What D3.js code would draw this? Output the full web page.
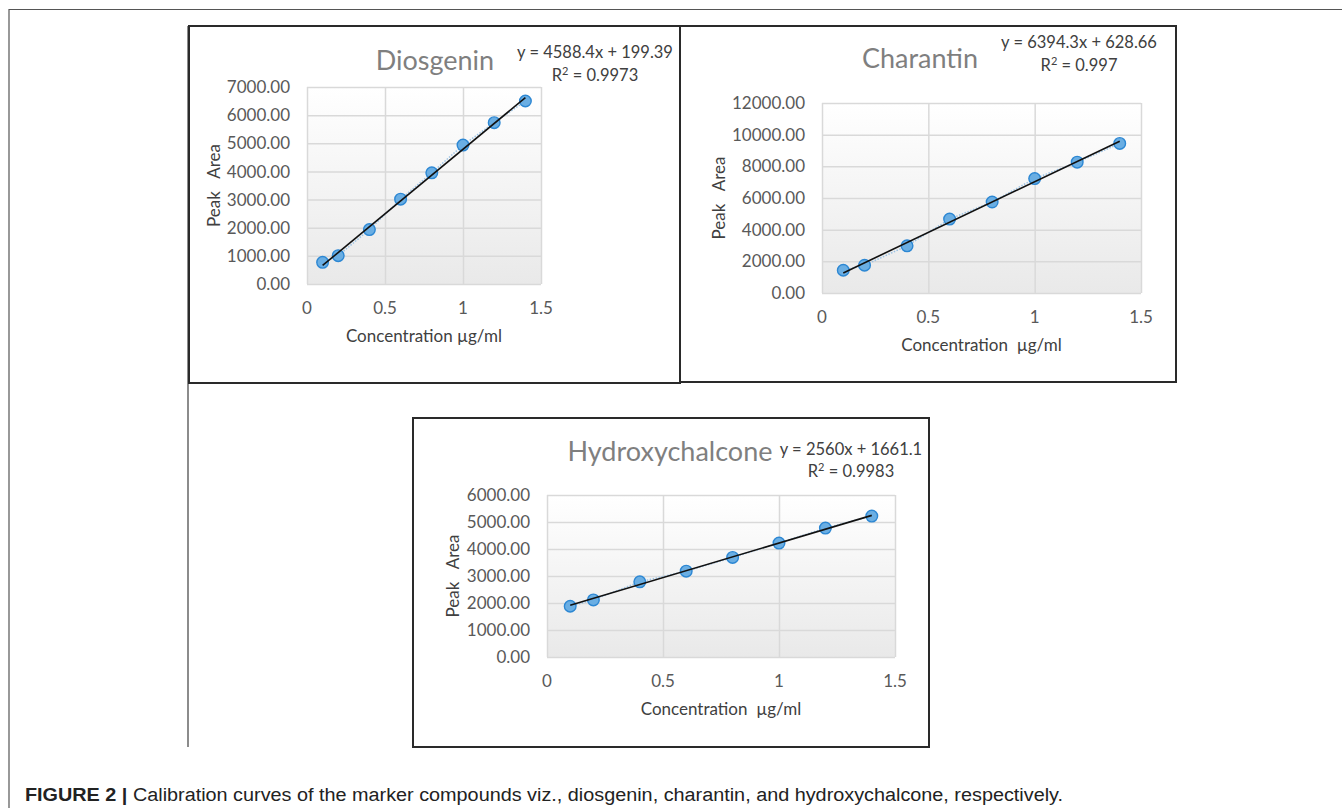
<!DOCTYPE html>
<html>
<head>
<meta charset="utf-8">
<script src="https://cdn.jsdelivr.net/npm/d3@7"></script>
<style>
  body { margin: 0; background: #fff; }
  svg { display: block; }
</style>
</head>
<body>
<div id="chart"></div>
<script>
// concentrations (µg/ml) shared by all three curves
var conc = [0.1, 0.2, 0.4, 0.6, 0.8, 1.0, 1.2, 1.4];

// peak areas
var diosgeninArea = [771, 1008, 1934, 3013, 3951, 4936, 5731, 6502];
var charantinArea = [1437, 1754, 2979, 4669, 5746, 7225, 8261, 9444];
var hydroxyArea = [1880, 2115, 2784, 3179, 3687, 4219, 4775, 5221];

// trendline slope / intercept
var diosgeninFit = [4588.4, 199.39];
var charantinFit = [6394.3, 628.66];
var hydroxyFit = [2560, 1661.1];

var eqLabels = ["y = 4588.4x + 199.39", "y = 6394.3x + 628.66", "y = 2560x + 1661.1"];
var r2Labels = ["0.9973", "0.997", "0.9983"];
var titles = ["Diosgenin", "Charantin", "Hydroxychalcone"];
var xTitles = ["Concentration \u00b5g/ml", "Concentration\u00a0\u00a0\u00b5g/ml", "Concentration\u00a0\u00a0\u00b5g/ml"];

var xTicks = [0, 0.5, 1, 1.5];
var diosgeninTicks = [0, 1000, 2000, 3000, 4000, 5000, 6000, 7000];
var charantinTicks = [0, 2000, 4000, 6000, 8000, 10000, 12000];
var hydroxyTicks = [0, 1000, 2000, 3000, 4000, 5000, 6000];

var W = 1342, H = 808;
var font = "Lato, 'Open Sans', sans-serif";

var svg = d3.select("#chart").append("svg")
    .attr("width", W)
    .attr("height", H)

var defs = svg.append("defs")
var grad = defs.append("linearGradient")
    .attr("id", "plotbg")
    .attr("x1", 0).attr("y1", 0).attr("x2", 0).attr("y2", 1)
grad.append("stop").attr("offset", "0%").attr("stop-color", "#ffffff")
grad.append("stop").attr("offset", "100%").attr("stop-color", "#e9e9e9")

// outer page frame (top + left edge only)
svg.append("path")
    .attr("d", "M9," + H + "V9.5H" + W)
    .attr("fill", "none")
    .attr("stroke", "#555")
    .attr("stroke-width", 1.2)

// long vertical rule under the first panel
svg.append("line")
    .attr("x1", 188).attr("x2", 188)
    .attr("y1", 26).attr("y2", 747)
    .attr("stroke", "#666")
    .attr("stroke-width", 1.5)

var panels = [
  {box: [189, 26, 680, 383], plot: [307, 87, 541, 284], yTicks: diosgeninTicks, area: diosgeninArea, fit: diosgeninFit,
   title: [435, 70], eq: [595, 58, 81], yLab: 213},
  {box: [680, 26, 1176, 382], plot: [822, 103, 1141, 293], yTicks: charantinTicks, area: charantinArea, fit: charantinFit,
   title: [920, 68], eq: [1079, 48, 71], yLab: 718},
  {box: [413, 418, 929, 747], plot: [547, 495, 895, 657], yTicks: hydroxyTicks, area: hydroxyArea, fit: hydroxyFit,
   title: [670, 461], eq: [851, 455, 477], yLab: 452}
];

panels.forEach(function(p, i) {
  var g = svg.append("g")

  g.append("rect")
      .attr("x", p.box[0]).attr("y", p.box[1])
      .attr("width", p.box[2] - p.box[0]).attr("height", p.box[3] - p.box[1])
      .attr("fill", "#fff")
      .attr("stroke", "#2a2a2a")
      .attr("stroke-width", 2)

  var x = d3.scaleLinear().domain([0, 1.5]).range([p.plot[0], p.plot[2]])
  var yMax = p.yTicks[p.yTicks.length - 1]
  var y = d3.scaleLinear().domain([0, yMax]).range([p.plot[3], p.plot[1]])

  g.append("rect")
      .attr("x", p.plot[0]).attr("y", p.plot[1])
      .attr("width", p.plot[2] - p.plot[0]).attr("height", p.plot[3] - p.plot[1])
      .attr("fill", "url(#plotbg)")

  // gridlines via axes
  g.append("g")
      .attr("transform", "translate(0," + p.plot[3] + ")")
      .call(d3.axisBottom(x).tickValues(xTicks).tickSize(-(p.plot[3] - p.plot[1])).tickFormat(""))
      .call(function(a) { a.select(".domain").remove() })
      .selectAll("line").attr("stroke", "#d9d9d9").attr("stroke-width", 1.5)

  g.append("g")
      .attr("transform", "translate(" + p.plot[0] + ",0)")
      .call(d3.axisLeft(y).tickValues(p.yTicks).tickSize(-(p.plot[2] - p.plot[0])).tickFormat(""))
      .call(function(a) { a.select(".domain").remove() })
      .selectAll("line").attr("stroke", "#d9d9d9").attr("stroke-width", 1.5)

  // tick labels
  g.selectAll(".ylab")
      .data(p.yTicks)
      .enter()
      .append("text")
      .attr("x", p.plot[0] - 17)
      .attr("y", function(d) { return y(d) })
      .attr("dy", "0.36em")
      .attr("text-anchor", "end")
      .style("font-family", font)
      .style("font-size", "17px")
      .style("fill", "#595959")
      .text(function(d) { return d3.format(".2f")(d) })

  g.selectAll(".xlab")
      .data(xTicks)
      .enter()
      .append("text")
      .attr("x", function(d) { return x(d) })
      .attr("y", p.plot[3] + 30)
      .attr("text-anchor", "middle")
      .style("font-family", font)
      .style("font-size", "17px")
      .style("fill", "#595959")
      .text(function(d) { return d })

  // axis titles
  g.append("text")
      .attr("x", (p.plot[0] + p.plot[2]) / 2)
      .attr("y", p.plot[3] + 58)
      .attr("text-anchor", "middle")
      .style("font-family", font)
      .style("font-size", "17px")
      .style("fill", "#404040")
      .text(xTitles[i])

  g.append("text")
      .attr("transform", "translate(" + p.yLab + "," + (p.plot[1] + p.plot[3]) / 2 + ") rotate(-90)")
      .attr("text-anchor", "middle")
      .attr("dominant-baseline", "central")
      .style("font-family", font)
      .style("font-size", "17px")
      .style("fill", "#404040")
      .text("Peak\u00a0\u00a0\u00a0Area")

  // chart title
  g.append("text")
      .attr("x", p.title[0]).attr("y", p.title[1])
      .attr("text-anchor", "middle")
      .style("font-family", font)
      .style("font-size", "27px")
      .style("fill", "#7f7f7f")
      .text(titles[i])

  // trendline equation
  g.append("text")
      .attr("x", p.eq[0]).attr("y", p.eq[1])
      .attr("text-anchor", "middle")
      .style("font-family", font)
      .style("font-size", "16.5px")
      .style("fill", "#404040")
      .text(eqLabels[i])
  var r2 = g.append("text")
      .attr("x", p.eq[0]).attr("y", p.eq[2])
      .attr("text-anchor", "middle")
      .style("font-family", font)
      .style("font-size", "16.5px")
      .style("fill", "#404040")
  r2.append("tspan").text("R")
  r2.append("tspan").attr("dy", -6).style("font-size", "11px").text("2")
  r2.append("tspan").attr("dy", 6).text(" = " + r2Labels[i])

  var pts = conc.map(function(c, k) { return [c, p.area[k]] })

  // dotted connector between points
  g.append("path")
      .datum(pts)
      .attr("d", d3.line().x(function(d) { return x(d[0]) }).y(function(d) { return y(d[1]) }))
      .attr("fill", "none")
      .attr("stroke", "#9cc3e5")
      .attr("stroke-width", 1.5)
      .attr("stroke-dasharray", "1.5,1.5")

  g.selectAll(".pt")
      .data(pts)
      .enter()
      .append("circle")
      .attr("cx", function(d) { return x(d[0]) })
      .attr("cy", function(d) { return y(d[1]) })
      .attr("r", 5.8)
      .style("fill", "#6aaee3")
      .style("stroke", "#2c87d3")
      .style("stroke-width", 1.4)

  // linear trendline, on top of the markers like in the original
  var x0 = conc[0], x1 = conc[conc.length - 1]
  g.append("line")
      .attr("x1", x(x0)).attr("y1", y(p.fit[0] * x0 + p.fit[1]))
      .attr("x2", x(x1)).attr("y2", y(p.fit[0] * x1 + p.fit[1]))
      .attr("stroke", "#111")
      .attr("stroke-width", 1.6)
});

// caption
var cap = svg.append("text")
    .attr("x", 25)
    .attr("y", 801)
    .attr("textLength", 1038)
    .attr("lengthAdjust", "spacingAndGlyphs")
    .style("font-family", "'Liberation Sans', Arial, sans-serif")
    .style("font-size", "18px")
    .style("fill", "#222")
cap.append("tspan").style("font-weight", "bold").text("FIGURE 2")
cap.append("tspan").style("font-weight", "bold").text(" | ")
cap.append("tspan").text("Calibration curves of the marker compounds viz., diosgenin, charantin, and hydroxychalcone, respectively.")
</script>
</body>
</html>
